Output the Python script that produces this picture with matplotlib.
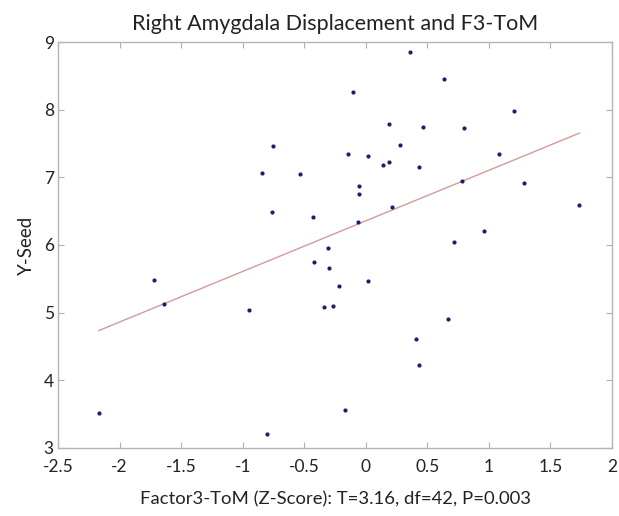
import numpy as np
import matplotlib
matplotlib.use("Agg")
import matplotlib.pyplot as plt

plt.rcParams['font.family'] = ['Lato', 'DejaVu Sans']

x_vals = [-2.168, -1.721, -1.640, -0.949, -0.805, -0.750, -0.846, -0.531, -0.764, -0.425,
          -0.420, -0.303, -0.298, -0.337, -0.266, -0.214, -0.171, 0.022, 0.360, 0.637,
          -0.103, 1.206, 0.187, 0.466, 0.794, 0.276, -0.141, 0.014, 0.138, 0.187,
          0.433, 1.079, -0.057, -0.057, 1.282, 0.211, 0.778, -0.063, 1.734, 0.957,
          0.713, 0.669, 0.409, 0.431]
y_vals = [3.52, 5.48, 5.13, 5.04, 3.20, 7.47, 7.07, 7.05, 6.49, 6.41,
          5.75, 5.95, 5.66, 5.08, 5.10, 5.39, 3.56, 5.47, 8.85, 8.46,
          8.26, 7.98, 7.79, 7.75, 7.73, 7.48, 7.35, 7.31, 7.18, 7.23,
          7.16, 7.34, 6.87, 6.76, 6.91, 6.56, 6.94, 6.34, 6.59, 6.20,
          6.04, 4.91, 4.61, 4.23]

x_ticks = [-2.5, -2, -1.5, -1, -0.5, 0, 0.5, 1, 1.5, 2]
x_tick_labels = ['-2.5', '-2', '-1.5', '-1', '-0.5', '0', '0.5', '1', '1.5', '2']
y_ticks = [3, 4, 5, 6, 7, 8, 9]

title = 'Right Amygdala Displacement and F3-ToM'
xlabel = 'Factor3-ToM (Z-Score): T=3.16, df=42, P=0.003'
ylabel = 'Y-Seed'

fig = plt.figure(figsize=(6.19, 5.16), dpi=100)
ax = fig.add_axes([0.0937, 0.1318, 0.8950, 0.7868])

x = np.array(x_vals)
y = np.array(y_vals)
slope, intercept = np.polyfit(x, y, 1)
xl = np.array([x.min(), x.max()])
ax.plot(xl, slope * xl + intercept, color='#d49a9a', lw=1.0, zorder=2)
ax.plot(x, y, linestyle='none', marker='o', markersize=2.0, color='#1c1c6a', zorder=3)

ax.set_xlim(-2.5, 2)
ax.set_ylim(3, 9)
ax.set_xticks(x_ticks)
ax.set_xticklabels(x_tick_labels)
ax.set_yticks(y_ticks)
ax.tick_params(direction='in', length=4, color='#b0b0b0', labelsize=12.5,
               top=True, right=True, labelcolor='#222222')
ax.tick_params(axis='x', pad=8)
ax.tick_params(axis='y', pad=3)
for s in ax.spines.values():
    s.set_color('#b5b5b5')
    s.set_linewidth(1.0)

ax.set_title(title, fontsize=15.5, color='#222222', pad=9)
ax.set_xlabel(xlabel, fontsize=13.3, color='#222222', labelpad=12)
ax.set_ylabel(ylabel, fontsize=13.5, color='#222222', labelpad=6)

fig.savefig('out.png', dpi=100)
